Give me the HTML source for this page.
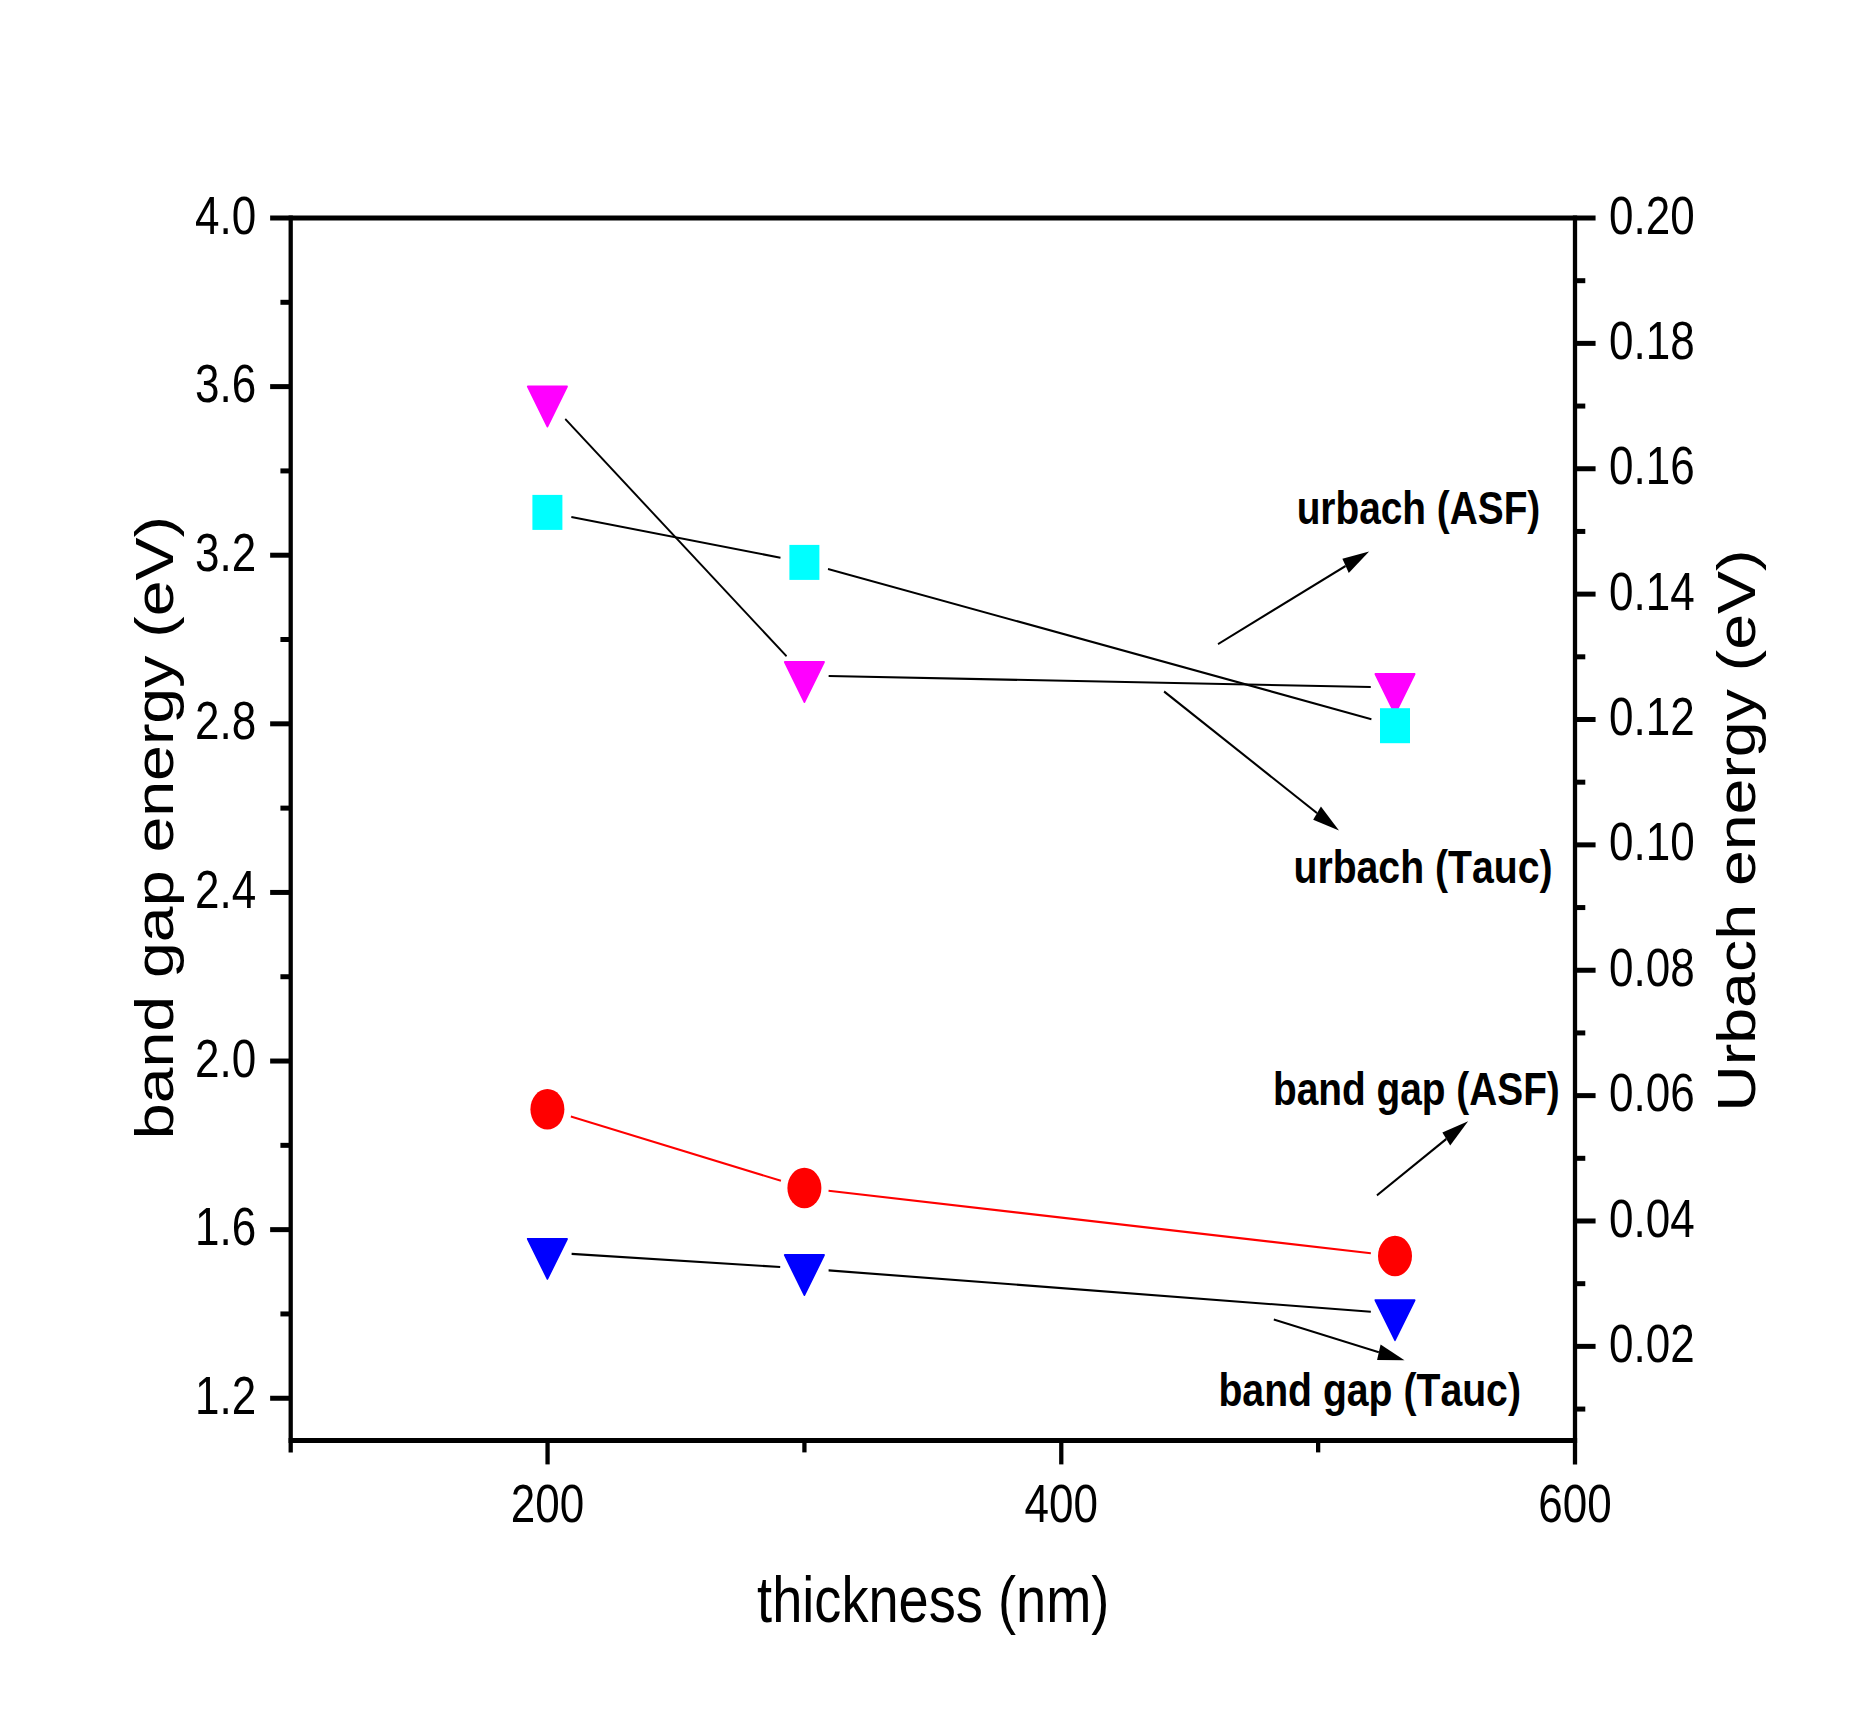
<!DOCTYPE html>
<html><head><meta charset="utf-8"><title>band gap / Urbach energy vs thickness</title>
<style>html,body{margin:0;padding:0;background:#fff}body{width:1851px;height:1716px;overflow:hidden}svg{display:block}text{font-kerning:none}</style>
</head><body>
<svg width="1851" height="1716" viewBox="0 0 2160 1716" preserveAspectRatio="none">
<rect x="0" y="0" width="2160" height="1716" fill="#fff"/>
<g stroke="#000" stroke-width="5" fill="none" stroke-linecap="butt">
<line x1="315.23" y1="218.0" x2="1861.93" y2="218.0"/>
<line x1="336.73" y1="1440.4" x2="1840.43" y2="1440.4"/>
<line x1="339.23" y1="215.5" x2="339.23" y2="1452.4"/>
<line x1="1837.93" y1="215.5" x2="1837.93" y2="1464.4"/>
<line x1="327.23" y1="302.30" x2="339.23" y2="302.30"/>
<line x1="315.23" y1="386.61" x2="339.23" y2="386.61"/>
<line x1="327.23" y1="470.91" x2="339.23" y2="470.91"/>
<line x1="315.23" y1="555.21" x2="339.23" y2="555.21"/>
<line x1="327.23" y1="639.52" x2="339.23" y2="639.52"/>
<line x1="315.23" y1="723.82" x2="339.23" y2="723.82"/>
<line x1="327.23" y1="808.12" x2="339.23" y2="808.12"/>
<line x1="315.23" y1="892.43" x2="339.23" y2="892.43"/>
<line x1="327.23" y1="976.73" x2="339.23" y2="976.73"/>
<line x1="315.23" y1="1061.03" x2="339.23" y2="1061.03"/>
<line x1="327.23" y1="1145.34" x2="339.23" y2="1145.34"/>
<line x1="315.23" y1="1229.64" x2="339.23" y2="1229.64"/>
<line x1="327.23" y1="1313.94" x2="339.23" y2="1313.94"/>
<line x1="315.23" y1="1398.25" x2="339.23" y2="1398.25"/>
<line x1="1837.93" y1="280.69" x2="1849.93" y2="280.69"/>
<line x1="1837.93" y1="343.37" x2="1861.93" y2="343.37"/>
<line x1="1837.93" y1="406.06" x2="1849.93" y2="406.06"/>
<line x1="1837.93" y1="468.75" x2="1861.93" y2="468.75"/>
<line x1="1837.93" y1="531.44" x2="1849.93" y2="531.44"/>
<line x1="1837.93" y1="594.12" x2="1861.93" y2="594.12"/>
<line x1="1837.93" y1="656.81" x2="1849.93" y2="656.81"/>
<line x1="1837.93" y1="719.50" x2="1861.93" y2="719.50"/>
<line x1="1837.93" y1="782.18" x2="1849.93" y2="782.18"/>
<line x1="1837.93" y1="844.87" x2="1861.93" y2="844.87"/>
<line x1="1837.93" y1="907.56" x2="1849.93" y2="907.56"/>
<line x1="1837.93" y1="970.25" x2="1861.93" y2="970.25"/>
<line x1="1837.93" y1="1032.93" x2="1849.93" y2="1032.93"/>
<line x1="1837.93" y1="1095.62" x2="1861.93" y2="1095.62"/>
<line x1="1837.93" y1="1158.31" x2="1849.93" y2="1158.31"/>
<line x1="1837.93" y1="1220.99" x2="1861.93" y2="1220.99"/>
<line x1="1837.93" y1="1283.68" x2="1849.93" y2="1283.68"/>
<line x1="1837.93" y1="1346.37" x2="1861.93" y2="1346.37"/>
<line x1="1837.93" y1="1409.06" x2="1849.93" y2="1409.06"/>
<line x1="638.97" y1="1440.4" x2="638.97" y2="1464.4"/>
<line x1="938.71" y1="1440.4" x2="938.71" y2="1452.4"/>
<line x1="1238.45" y1="1440.4" x2="1238.45" y2="1464.4"/>
<line x1="1538.19" y1="1440.4" x2="1538.19" y2="1452.4"/>
</g>
<g font-family="'Liberation Sans', Arial, sans-serif" font-size="54.0" fill="#000">
<text transform="translate(298.97,233.60) scale(0.951,1)" text-anchor="end">4.0</text>
<text transform="translate(298.97,402.21) scale(0.951,1)" text-anchor="end">3.6</text>
<text transform="translate(298.97,570.81) scale(0.951,1)" text-anchor="end">3.2</text>
<text transform="translate(298.97,739.42) scale(0.951,1)" text-anchor="end">2.8</text>
<text transform="translate(298.97,908.03) scale(0.951,1)" text-anchor="end">2.4</text>
<text transform="translate(298.97,1076.63) scale(0.951,1)" text-anchor="end">2.0</text>
<text transform="translate(298.97,1245.24) scale(0.951,1)" text-anchor="end">1.6</text>
<text transform="translate(298.97,1413.85) scale(0.951,1)" text-anchor="end">1.2</text>
<text transform="translate(1877.60,233.60) scale(0.951,1)" text-anchor="start">0.20</text>
<text transform="translate(1877.60,358.97) scale(0.951,1)" text-anchor="start">0.18</text>
<text transform="translate(1877.60,484.35) scale(0.951,1)" text-anchor="start">0.16</text>
<text transform="translate(1877.60,609.72) scale(0.951,1)" text-anchor="start">0.14</text>
<text transform="translate(1877.60,735.10) scale(0.951,1)" text-anchor="start">0.12</text>
<text transform="translate(1877.60,860.47) scale(0.951,1)" text-anchor="start">0.10</text>
<text transform="translate(1877.60,985.85) scale(0.951,1)" text-anchor="start">0.08</text>
<text transform="translate(1877.60,1111.22) scale(0.951,1)" text-anchor="start">0.06</text>
<text transform="translate(1877.60,1236.59) scale(0.951,1)" text-anchor="start">0.04</text>
<text transform="translate(1877.60,1361.97) scale(0.951,1)" text-anchor="start">0.02</text>
<text transform="translate(638.97,1522.4) scale(0.951,1)" text-anchor="middle">200</text>
<text transform="translate(1238.45,1522.4) scale(0.951,1)" text-anchor="middle">400</text>
<text transform="translate(1837.93,1522.4) scale(0.951,1)" text-anchor="middle">600</text>
</g>
<g font-family="'Liberation Sans', Arial, sans-serif" font-size="64" fill="#000" text-anchor="middle">
<text transform="translate(1088.99,1621.6) scale(0.988,1)">thickness (nm)</text>
<text transform="translate(202.23,827.6) rotate(-90) scale(1.007,0.978)">band gap energy (eV)</text>
<text transform="translate(2047.97,830.6) rotate(-90) scale(1.007,0.985)">Urbach energy (eV)</text>
</g>
<line x1="659.62" y1="419.05" x2="917.85" y2="656.35" stroke="#000" stroke-width="2.1"/>
<line x1="966.98" y1="675.99" x2="1599.58" y2="687.01" stroke="#000" stroke-width="2.1"/>
<line x1="666.70" y1="517.05" x2="910.77" y2="557.75" stroke="#000" stroke-width="2.1"/>
<line x1="966.22" y1="568.92" x2="1600.34" y2="719.18" stroke="#000" stroke-width="2.1"/>
<line x1="666.15" y1="1116.48" x2="911.31" y2="1180.82" stroke="#f00" stroke-width="2.1"/>
<line x1="966.85" y1="1190.78" x2="1599.71" y2="1253.22" stroke="#f00" stroke-width="2.1"/>
<line x1="667.04" y1="1253.83" x2="910.43" y2="1266.97" stroke="#000" stroke-width="2.1"/>
<line x1="966.92" y1="1270.35" x2="1599.64" y2="1311.75" stroke="#000" stroke-width="2.1"/>
<polygon points="615.86,386.50 661.70,386.50 638.78,426.40" fill="#f0f" stroke="#f0f" stroke-width="2" stroke-linejoin="round"/>
<polygon points="915.76,662.10 961.61,662.10 938.68,702.00" fill="#f0f" stroke="#f0f" stroke-width="2" stroke-linejoin="round"/>
<polygon points="1604.95,674.10 1650.80,674.10 1627.88,714.00" fill="#f0f" stroke="#f0f" stroke-width="2" stroke-linejoin="round"/>
<rect x="621.28" y="494.90" width="35" height="35" fill="#0ff"/>
<rect x="921.18" y="544.90" width="35" height="35" fill="#0ff"/>
<rect x="1610.38" y="708.20" width="35" height="35" fill="#0ff"/>
<ellipse cx="638.78" cy="1109.30" rx="19.84" ry="20.3" fill="#f00"/>
<ellipse cx="938.68" cy="1188.00" rx="19.84" ry="20.3" fill="#f00"/>
<ellipse cx="1627.88" cy="1256.00" rx="19.84" ry="20.3" fill="#f00"/>
<polygon points="615.86,1238.90 661.70,1238.90 638.78,1278.80" fill="#00f" stroke="#00f" stroke-width="2" stroke-linejoin="round"/>
<polygon points="915.76,1255.10 961.61,1255.10 938.68,1295.00" fill="#00f" stroke="#00f" stroke-width="2" stroke-linejoin="round"/>
<polygon points="1604.95,1300.20 1650.80,1300.20 1627.88,1340.10" fill="#00f" stroke="#00f" stroke-width="2" stroke-linejoin="round"/>
<line x1="1421.33" y1="644.10" x2="1570.21" y2="565.91" stroke="#000" stroke-width="2.2"/>
<polygon points="1597.65,551.50 1573.93,573.00 1566.49,558.83" fill="#000"/>
<line x1="1358.43" y1="691.50" x2="1536.91" y2="813.14" stroke="#000" stroke-width="2.2"/>
<polygon points="1562.53,830.60 1532.41,819.75 1541.42,806.53" fill="#000"/>
<line x1="1606.76" y1="1195.30" x2="1687.73" y2="1139.00" stroke="#000" stroke-width="2.2"/>
<polygon points="1713.18,1121.30 1692.30,1145.57 1683.16,1132.43" fill="#000"/>
<line x1="1486.44" y1="1319.50" x2="1609.01" y2="1352.21" stroke="#000" stroke-width="2.2"/>
<polygon points="1638.96,1360.20 1606.95,1359.94 1611.07,1344.48" fill="#000"/>
<rect x="1417.83" y="1361.2" width="373.42" height="60" fill="#fff"/>
<g font-family="'Liberation Sans', Arial, sans-serif" font-size="46" font-weight="bold" fill="#000">
<text transform="translate(1513.08,524.0) scale(0.985,1)">urbach (ASF)</text>
<text transform="translate(1509.38,883.2) scale(0.994,1)">urbach (Tauc)</text>
<text transform="translate(1485.54,1105.2) scale(0.985,1)">band gap (ASF)</text>
<text transform="translate(1421.83,1405.7) scale(0.994,1)">band gap (Tauc)</text>
</g>
</svg>
</body></html>
